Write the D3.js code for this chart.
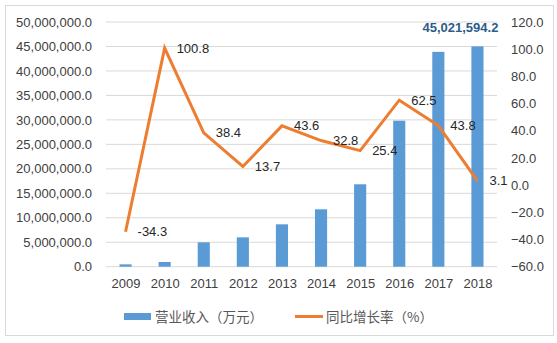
<!DOCTYPE html>
<html><head><meta charset="utf-8">
<script src="https://cdn.jsdelivr.net/npm/d3@7"></script>
<style>body{margin:0;background:#fff;}svg{display:block;}</style>
</head><body>
<svg id="c" width="557" height="343"></svg>
<script>
const years = ["2009","2010","2011","2012","2013","2014","2015","2016","2017","2018"];
const revenue = [480000, 965000, 4980000, 6000000, 8660000, 11730000, 16840000, 29830000, 43900000, 45021594.2];
const growth = [-34.3, 100.8, 38.4, 13.7, 43.6, 32.8, 25.4, 62.5, 43.8, 3.1];
const leftTicks = [0,5e6,10e6,15e6,20e6,25e6,30e6,35e6,40e6,45e6,50e6];
const rightTicks = [-60,-40,-20,0,20,40,60,80,100,120];
const legendLabels = ["营业收入（万元）","同比增长率（%）"];

const svg = d3.select("#c");
const font = "'Liberation Sans', Arial, sans-serif";
const cjk = "'Noto Sans CJK SC', sans-serif";
const m = {l:106, r:497, t:22, b:266.7};

svg.append("rect").attr("x",5.5).attr("y",5.5).attr("width",548).attr("height",330)
  .attr("fill","#fff").attr("stroke","#d9d9d9").attr("stroke-width",1);

const x = d3.scaleBand().domain(years).range([m.l, m.r]).paddingInner(0.69).paddingOuter(0.345);
const xc = d3.scalePoint().domain(years).range([m.l, m.r]).padding(0.5);
const yL = d3.scaleLinear().domain([0,50e6]).range([m.b, m.t]);
const yR = d3.scaleLinear().domain([-60,120]).range([m.b, m.t]);

// gridlines
svg.append("g").selectAll("line").data(leftTicks).join("line")
  .attr("x1",m.l).attr("x2",m.r).attr("y1",d=>yL(d)).attr("y2",d=>yL(d))
  .attr("stroke","#d9d9d9").attr("stroke-width",1);

// left axis
const fmtL = d3.format(",.1f");
const gl = svg.append("g").attr("transform",`translate(${m.l-14},0)`)
  .call(d3.axisLeft(yL).tickValues(leftTicks).tickFormat(fmtL).tickSize(0).tickPadding(0));
gl.select(".domain").remove();
gl.selectAll("text").attr("font-family",font).attr("font-size",13).attr("fill","#404040");

// right axis
const gr = svg.append("g").attr("transform",`translate(${m.r+14},0)`)
  .call(d3.axisRight(yR).tickValues(rightTicks).tickFormat(d3.format(".1f")).tickSize(0).tickPadding(0));
gr.select(".domain").remove();
gr.selectAll("text").attr("font-family",font).attr("font-size",13).attr("fill","#404040");

// bottom axis
const gb = svg.append("g").attr("transform",`translate(0,${m.b+12})`)
  .call(d3.axisBottom(xc).tickSize(0).tickPadding(0));
gb.select(".domain").remove();
gb.selectAll("text").attr("font-family",font).attr("font-size",13).attr("fill","#404040").attr("dy","0.71em");

// bars
svg.append("g").selectAll("rect").data(revenue).join("rect")
  .attr("x",(d,i)=>x(years[i])).attr("width",x.bandwidth())
  .attr("y",d=>yL(d)).attr("height",d=>m.b-yL(d)).attr("fill","#5B9BD5");

// bar label for last
const li = revenue.length-1;
svg.append("text").attr("x",xc(years[li])-17).attr("y",yL(revenue[li])-14)
  .attr("text-anchor","middle").attr("font-family",font).attr("font-size",13).attr("font-weight","bold")
  .attr("fill","#2E5C8A").text(fmtL(revenue[li]));

// line
const line = d3.line().x((d,i)=>xc(years[i])).y(d=>yR(d));
svg.append("path").datum(growth).attr("d",line).attr("fill","none")
  .attr("stroke","#ED7D31").attr("stroke-width",3).attr("stroke-linejoin","miter");

svg.append("g").selectAll("text").data(growth).join("text")
  .attr("x",(d,i)=>xc(years[i])+12).attr("y",d=>yR(d)).attr("dy","0.35em")
  .attr("font-family",font).attr("font-size",13).attr("fill","#262626")
  .text(d=>d.toFixed(1));

// legend
const lg = svg.append("g");
lg.append("rect").attr("x",124).attr("y",313).attr("width",27).attr("height",7).attr("fill","#5B9BD5");
lg.append("text").attr("x",155).attr("y",317).attr("dy","0.35em").attr("font-family",cjk).attr("font-size",13.5)
  .attr("fill","#595959").text(legendLabels[0]);
lg.append("line").attr("x1",295).attr("x2",323).attr("y1",316.5).attr("y2",316.5).attr("stroke","#ED7D31").attr("stroke-width",3);
lg.append("text").attr("x",326).attr("y",317).attr("dy","0.35em").attr("font-family",cjk).attr("font-size",13.5)
  .attr("fill","#595959").text(legendLabels[1]);
</script>
</body></html>
